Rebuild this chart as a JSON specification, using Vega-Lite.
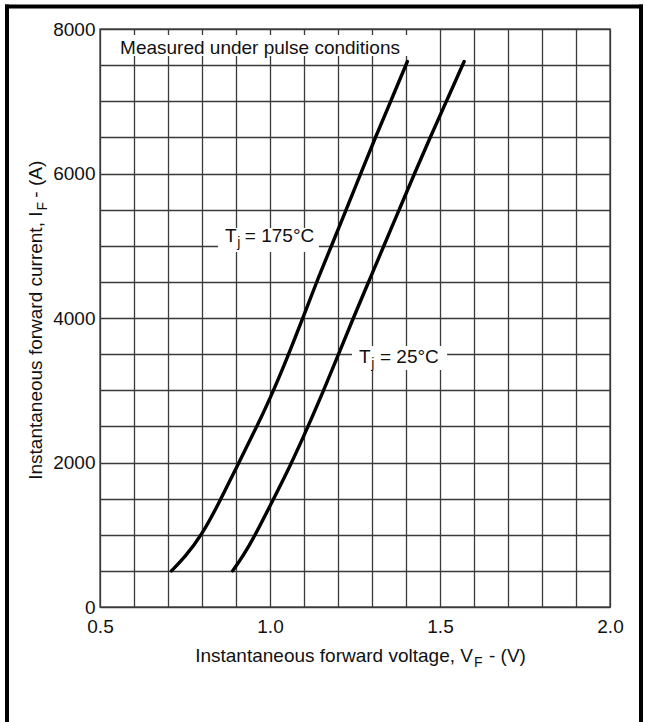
{
  "$schema": "https://vega.github.io/schema/vega-lite/v6.json",
  "width": 510,
  "height": 578,
  "autosize": {"type": "none"},
  "padding": {"left": 100, "top": 29, "right": 35, "bottom": 115},
  "background": "white",
  "config": {
    "view": {"stroke": "#5a5a5a", "strokeWidth": 1.5},
    "font": "Liberation Sans"
  },
  "datasets": {
    "frame": [
      {"V": 0.2265, "V2": 2.0912, "I": 8311, "I2": 8311},
      {"V": 0.2265, "V2": 0.2265, "I": 8311, "I2": -1650},
      {"V": 2.0912, "V2": 2.0912, "I": 8311, "I2": -1650}
    ],
    "boxes": [
      {"V": 0.53, "V2": 1.42, "I": 7626, "I2": 7917},
      {"V": 0.847, "V2": 1.144, "I": 4913, "I2": 5246},
      {"V": 1.241, "V2": 1.521, "I": 3280, "I2": 3612}
    ],
    "curves": [
      {"Tj": "175°C", "V": 0.71, "I": 500},
      {"Tj": "175°C", "V": 0.75, "I": 690},
      {"Tj": "175°C", "V": 0.80, "I": 1000},
      {"Tj": "175°C", "V": 0.85, "I": 1440},
      {"Tj": "175°C", "V": 0.90, "I": 1920},
      {"Tj": "175°C", "V": 0.95, "I": 2390},
      {"Tj": "175°C", "V": 1.00, "I": 2880},
      {"Tj": "175°C", "V": 1.05, "I": 3440},
      {"Tj": "175°C", "V": 1.096, "I": 3990},
      {"Tj": "175°C", "V": 1.137, "I": 4500},
      {"Tj": "175°C", "V": 1.181, "I": 5000},
      {"Tj": "175°C", "V": 1.224, "I": 5500},
      {"Tj": "175°C", "V": 1.267, "I": 6000},
      {"Tj": "175°C", "V": 1.309, "I": 6490},
      {"Tj": "175°C", "V": 1.356, "I": 7010},
      {"Tj": "175°C", "V": 1.404, "I": 7550},
      {"Tj": "25°C", "V": 0.89, "I": 500},
      {"Tj": "25°C", "V": 0.92, "I": 700},
      {"Tj": "25°C", "V": 0.956, "I": 990},
      {"Tj": "25°C", "V": 1.00, "I": 1400},
      {"Tj": "25°C", "V": 1.05, "I": 1860},
      {"Tj": "25°C", "V": 1.10, "I": 2370},
      {"Tj": "25°C", "V": 1.15, "I": 2910},
      {"Tj": "25°C", "V": 1.20, "I": 3480},
      {"Tj": "25°C", "V": 1.245, "I": 4000},
      {"Tj": "25°C", "V": 1.29, "I": 4500},
      {"Tj": "25°C", "V": 1.335, "I": 5000},
      {"Tj": "25°C", "V": 1.38, "I": 5500},
      {"Tj": "25°C", "V": 1.425, "I": 6000},
      {"Tj": "25°C", "V": 1.471, "I": 6500},
      {"Tj": "25°C", "V": 1.520, "I": 7010},
      {"Tj": "25°C", "V": 1.571, "I": 7550}
    ],
    "labelsLeft": [
      {"V": 0.559, "I": 7654, "txt": "Measured under pulse conditions"},
      {"V": 0.926, "I": 5048, "txt": "= 175°C"},
      {"V": 1.3235, "I": 3381, "txt": "= 25°C"},
      {"V": 1.644, "I": -761, "txt": "- (V)"}
    ],
    "labelsRight": [
      {"V": 0.9018, "I": 5048, "txt": "T"},
      {"V": 1.2962, "I": 3381, "txt": "T"},
      {"V": 1.597, "I": -761, "txt": "Instantaneous forward voltage, V"}
    ],
    "subs": [
      {"V": 0.904, "I": 5048, "txt": "j"},
      {"V": 1.298, "I": 3381, "txt": "j"},
      {"V": 1.600, "I": -761, "txt": "F"}
    ],
    "yRight": [
      {"V": 0.3285, "I": 5474, "txt": "Instantaneous forward current, I"}
    ],
    "ySub": [
      {"V": 0.3285, "I": 5474, "txt": "F"}
    ],
    "yLeft": [
      {"V": 0.3285, "I": 5666, "txt": "- (A)"}
    ]
  },
  "encoding": {
    "x": {
      "field": "V",
      "type": "quantitative",
      "scale": {"domain": [0.5, 2.0], "nice": false, "zero": false},
      "axis": {
        "title": null,
        "values": [0.5, 0.6, 0.7, 0.8, 0.9, 1.0, 1.1, 1.2, 1.3, 1.4, 1.5, 1.6, 1.7, 1.8, 1.9, 2.0],
        "grid": true,
        "gridColor": "#3a3a3a",
        "gridWidth": 1.3,
        "ticks": false,
        "domain": false,
        "labelFont": "Liberation Sans",
        "labelFontSize": 19,
        "labelColor": "#111111",
        "labelPadding": 10,
        "labelFlush": false,
        "labelOverlap": false,
        "labelExpr": "abs(datum.value * 2 - round(datum.value * 2)) < 0.001 ? format(datum.value, '.1f') : ''"
      }
    },
    "y": {
      "field": "I",
      "type": "quantitative",
      "scale": {"domain": [0, 8000], "nice": false, "zero": false},
      "axis": {
        "title": null,
        "values": [0, 500, 1000, 1500, 2000, 2500, 3000, 3500, 4000, 4500, 5000, 5500, 6000, 6500, 7000, 7500, 8000],
        "grid": true,
        "gridColor": "#3a3a3a",
        "gridWidth": 1.3,
        "ticks": false,
        "domain": false,
        "labelFont": "Liberation Sans",
        "labelFontSize": 19,
        "labelColor": "#111111",
        "labelPadding": 5,
        "labelFlush": false,
        "labelOverlap": false,
        "labelExpr": "datum.value % 2000 == 0 ? format(datum.value, 'd') : ''"
      }
    }
  },
  "layer": [
    {
      "data": {"name": "boxes"},
      "mark": {"type": "rect", "fill": "white", "strokeWidth": 0},
      "encoding": {"x2": {"field": "V2"}, "y2": {"field": "I2"}}
    },
    {
      "data": {"name": "curves"},
      "mark": {"type": "line", "color": "black", "strokeWidth": 3.4, "interpolate": "basis", "strokeCap": "round"},
      "encoding": {"detail": {"field": "Tj", "type": "nominal"}}
    },
    {
      "data": {"name": "labelsLeft"},
      "mark": {"type": "text", "align": "left", "baseline": "alphabetic", "fontSize": 19, "font": "Liberation Sans", "color": "#111111"},
      "encoding": {"text": {"field": "txt"}}
    },
    {
      "data": {"name": "labelsRight"},
      "mark": {"type": "text", "align": "right", "baseline": "alphabetic", "fontSize": 19, "font": "Liberation Sans", "color": "#111111"},
      "encoding": {"text": {"field": "txt"}}
    },
    {
      "data": {"name": "subs"},
      "mark": {"type": "text", "align": "left", "baseline": "alphabetic", "fontSize": 14, "dy": 5, "font": "Liberation Sans", "color": "#111111"},
      "encoding": {"text": {"field": "txt"}}
    },
    {
      "data": {"name": "yRight"},
      "mark": {"type": "text", "align": "right", "baseline": "alphabetic", "angle": 270, "fontSize": 19, "font": "Liberation Sans", "color": "#111111"},
      "encoding": {"text": {"field": "txt"}}
    },
    {
      "data": {"name": "ySub"},
      "mark": {"type": "text", "align": "left", "baseline": "alphabetic", "angle": 270, "fontSize": 14, "dx": 1, "dy": 5, "font": "Liberation Sans", "color": "#111111"},
      "encoding": {"text": {"field": "txt"}}
    },
    {
      "data": {"name": "yLeft"},
      "mark": {"type": "text", "align": "left", "baseline": "alphabetic", "angle": 270, "fontSize": 19, "font": "Liberation Sans", "color": "#111111"},
      "encoding": {"text": {"field": "txt"}}
    },
    {
      "data": {"name": "frame"},
      "mark": {"type": "rule", "color": "black", "strokeWidth": 4, "strokeCap": "square"},
      "encoding": {"x2": {"field": "V2"}, "y2": {"field": "I2"}}
    }
  ]
}
